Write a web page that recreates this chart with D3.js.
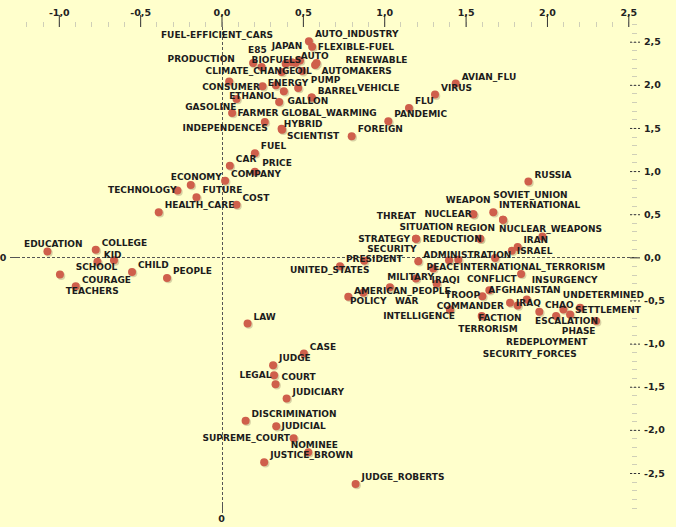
<!DOCTYPE html>
<html><head><meta charset="utf-8">
<script src="https://cdn.jsdelivr.net/npm/d3@7"></script>
<style>html,body{margin:0;padding:0;background:#ffffcc;}svg{display:block}</style>
</head><body>
<svg id="chart" width="676" height="527"></svg>
<script>
// ---- data (dimension 1, dimension 2) ----
const words = ["AUTO_INDUSTRY","FLEXIBLE-FUEL","FUEL-EFFICIENT_CARS","JAPAN","E85","PRODUCTION","BIOFUELS","AUTO","RENEWABLE","CLIMATE_CHANGE","OIL","AUTOMAKERS","CONSUMER","ENERGY","PUMP","VEHICLE","BARREL","ETHANOL","GALLON","GASOLINE","FARMER","GLOBAL_WARMING","HYBRID","INDEPENDENCES","SCIENTIST","FOREIGN","PANDEMIC","FLU","VIRUS","AVIAN_FLU",
"FUEL","CAR","PRICE","COMPANY","ECONOMY","TECHNOLOGY","FUTURE","COST","HEALTH_CARE","EDUCATION","COLLEGE","KID","SCHOOL","COURAGE","TEACHERS","CHILD","PEOPLE",
"RUSSIA","WEAPON","SOVIET_UNION","INTERNATIONAL","NUCLEAR","THREAT","SITUATION","REGION","STRATEGY","REDUCTION","NUCLEAR_WEAPONS","IRAN","ISRAEL","SECURITY","PRESIDENT","ADMINISTRATION","UNITED_STATES","PEACE","INTERNATIONAL_TERRORISM","INSURGENCY","CONFLICT","MILITARY","IRAQI","AMERICAN_PEOPLE","POLICY","WAR","TROOP","AFGHANISTAN","UNDETERMINED","IRAQ","CHAO","SETTLEMENT","COMMANDER","INTELLIGENCE","FACTION","ESCALATION","TERRORISM","PHASE","REDEPLOYMENT","SECURITY_FORCES",
"LAW","CASE","JUDGE","LEGAL","COURT","JUDICIARY","DISCRIMINATION","JUDICIAL","SUPREME_COURT","NOMINEE","JUSTICE_BROWN","JUDGE_ROBERTS"];

const dim1 = [0.537,0.557,0.482,0.431,0.194,0.246,0.394,0.455,0.584,0.369,0.496,0.575,0.047,0.252,0.471,0.554,0.554,0.383,0.354,0.092,0.065,0.334,0.369,0.266,0.372,0.800,1.025,1.152,1.312,1.439,
0.205,0.051,0.205,0.022,-0.189,-0.271,-0.154,0.092,-0.386,-1.070,-0.773,-0.661,-0.763,-0.993,-0.896,-0.550,-0.335,
1.886,1.547,1.670,1.730,1.547,1.195,1.589,1.730,1.195,1.589,1.820,1.972,1.784,1.209,0.877,1.398,0.728,1.301,1.455,1.841,1.681,1.195,1.322,1.035,0.779,0.871,1.603,1.646,2.204,1.773,1.953,2.142,1.404,1.404,1.599,2.056,1.820,2.302,2.101,1.876,
0.160,0.506,0.317,0.323,0.332,0.400,0.148,0.336,0.443,0.533,0.262,0.824];

const dim2 = [2.506,2.441,2.283,2.263,2.252,2.206,2.245,2.252,2.252,2.148,2.159,2.230,2.040,1.983,1.963,1.852,1.852,1.925,1.801,1.836,1.674,1.994,1.490,1.570,1.480,1.405,1.578,1.732,1.887,2.014,
1.206,1.062,0.993,0.889,0.839,0.774,0.697,0.609,0.524,0.069,0.089,-0.035,-0.050,-0.200,-0.335,-0.169,-0.238,
0.878,0.501,0.524,0.435,0.501,0.216,0.216,0.435,0.216,0.216,0.120,0.242,0.077,-0.046,-0.038,-0.035,-0.104,-0.130,-0.027,-0.192,-0.007,-0.246,-0.307,-0.346,-0.457,-0.411,-0.450,-0.381,-0.584,-0.527,-0.630,-0.662,-0.604,-0.604,-0.681,-0.681,-0.558,-0.739,-0.604,-0.488,
-0.766,-1.115,-1.251,-1.366,-1.470,-1.635,-1.894,-1.958,-2.097,-2.259,-2.374,-2.628];

const xTickValues = [-1.0,-0.5,0.0,0.5,1.0,1.5,2.0,2.5];
const yTickValues = [2.5,2.0,1.5,1.0,0.5,0.0,-0.5,-1.0,-1.5,-2.0,-2.5];

// ---- label placement (pixel offsets from the point: dx, dy, anchor) ----
const labelPlacement = {
  "FLEXIBLE-FUEL":[5.7,0,"start"],"FUEL-EFFICIENT_CARS":[-139,-26,"start"],"JAPAN":[-20,-16,"start"],
  "E85":[-5,-13.4,"start"],"PRODUCTION":[-26.7,-8,"end"],"BIOFUELS":[-34,-4,"start"],"AUTO":[5.3,-7.7,"start"],
  "RENEWABLE":[29,-3.7,"start"],"CLIMATE_CHANGE":[-76,-1.7,"start"],"OIL":[-7.3,-0.7,"start"],"AUTOMAKERS":[6.5,5.4,"start"],
  "CONSUMER":[30.7,5,"end"],"ENERGY":[5.3,-3.3,"start"],"PUMP":[12.7,-7.7,"start"],"VEHICLE":[45.6,-10,"start"],
  "ETHANOL":[-7,4.3,"end"],"GALLON":[8.4,-1,"start"],"GASOLINE":[0,8,"end"],"FARMER":[5.4,-0.4,"start"],
  "GLOBAL_WARMING":[5.7,27.3,"start"],"HYBRID":[2.3,-5,"start"],"INDEPENDENCES":[3,6.3,"end"],"SCIENTIST":[5,6.3,"start"],
  "PRICE":[7.3,-8.4,"start"],"ECONOMY":[-20,-7.7,"start"],"TECHNOLOGY":[-1,-0.7,"end"],
  "EDUCATION":[-23.4,-8,"start"],"KID":[-10.3,-5.7,"start"],"SCHOOL":[-21.7,5,"start"],"COURAGE":[22,5,"start"],"TEACHERS":[-10,4.3,"start"],
  "WEAPON":[17.4,-14.3,"end"],"SOVIET_UNION":[0,-17.3,"start"],"INTERNATIONAL":[-4,-15,"start"],"NUCLEAR":[-1.6,0,"end"],
  "THREAT":[0,-23.3,"end"],"SITUATION":[-26.7,-12,"end"],"REGION":[-8,7.7,"end"],
  "STRATEGY":[-6,0.3,"end"],"REDUCTION":[1.7,0.3,"end"],"NUCLEAR_WEAPONS":[-18.7,-18,"start"],"IRAN":[-19,3.3,"start"],"ISRAEL":[5,0,"start"],
  "SECURITY":[-1.6,-12.4,"end"],"PRESIDENT":[-18.3,-1.7,"start"],"ADMINISTRATION":[-25.7,-5.4,"start"],"UNITED_STATES":[-50,3.3,"start"],
  "PEACE":[-6.6,-1.7,"start"],"INTERNATIONAL_TERRORISM":[1.7,7.3,"start"],"INSURGENCY":[10.7,5.7,"start"],"CONFLICT":[21.7,21,"end"],
  "MILITARY":[-28.7,-1.3,"start"],"IRAQI":[-5,-4.3,"start"],"AMERICAN_PEOPLE":[-36,3.3,"start"],"POLICY":[1.7,3.7,"start"],"WAR":[31.7,7.7,"start"],
  "TROOP":[-2.3,-1.7,"end"],"AFGHANISTAN":[-1,0,"start"],"UNDETERMINED":[-17.3,-13.3,"start"],"IRAQ":[6,0,"start"],"CHAO":[5.7,-7.3,"start"],
  "SETTLEMENT":[5,-4.3,"start"],"COMMANDER":[-13.3,-3.3,"start"],"INTELLIGENCE":[5,6.7,"end"],"FACTION":[-3.4,1.6,"start"],
  "ESCALATION":[-21,5,"start"],"TERRORISM":[-59.4,23,"start"],"PHASE":[-34.3,9.6,"start"],"REDEPLOYMENT":[-57.3,32.3,"start"],"SECURITY_FORCES":[-44,54,"start"],
  "LEGAL":[-2.6,0,"end"],"JUDICIAL":[5.4,0,"start"],"SUPREME_COURT":[-3.7,-0.3,"end"],"NOMINEE":[-17.6,-7.3,"start"]
};
const defaultPlacement = [6,-7,"start"];

// ---- drawing ----
const svg = d3.select("#chart");
const W = 676, H = 527;
svg.append("rect").attr("width",W).attr("height",H).attr("fill","#ffffcc");

const x = d3.scaleLinear().domain([-1,2.5]).range([58.8,628.3]);
const y = d3.scaleLinear().domain([-2.5,2.5]).range([473.0,41.7]);
const fmt = v => d3.format(".1f")(v).replace("\u2212","-").replace(".",",");
const FONT = "'DejaVu Sans', Verdana, sans-serif";
const yAxisX = 634, xAxisY = 27;

// minor ticks
const xMinor = d3.range(-12,26).map(i => i/10);
svg.append("g").selectAll("line").data(xMinor).join("line")
  .attr("x1",d=>Math.round(x(d))+0.5).attr("x2",d=>Math.round(x(d))+0.5)
  .attr("y1",xAxisY-5).attr("y2",xAxisY).attr("stroke","#cfcfb8").attr("stroke-width",1);
const yMinor = d3.range(-29,28).map(i => i/10);
svg.append("g").selectAll("line").data(yMinor).join("line")
  .attr("y1",d=>Math.round(y(d))+0.5).attr("y2",d=>Math.round(y(d))+0.5)
  .attr("x1",yAxisX-2).attr("x2",yAxisX+3).attr("stroke","#cfcfb8").attr("stroke-width",1);

// zero reference lines
svg.append("line").attr("x1",17).attr("x2",yAxisX).attr("y1",Math.round(y(0))+0.5).attr("y2",Math.round(y(0))+0.5)
  .attr("stroke","#555").attr("stroke-dasharray","3,2");
svg.append("line").attr("x1",10).attr("x2",17).attr("y1",Math.round(y(0))+0.5).attr("y2",Math.round(y(0))+0.5).attr("stroke","#555");
svg.append("text").attr("x",3).attr("y",y(0)).attr("dy","0.35em").attr("text-anchor","middle")
  .attr("font-family",FONT).attr("font-weight","bold").attr("font-size",9.5).attr("fill","#222").text("0");
svg.append("line").attr("y1",xAxisY).attr("y2",505).attr("x1",Math.round(x(0))+0.5).attr("x2",Math.round(x(0))+0.5)
  .attr("stroke","#555").attr("stroke-dasharray","3,2");
svg.append("line").attr("y1",505).attr("y2",513).attr("x1",Math.round(x(0))+0.5).attr("x2",Math.round(x(0))+0.5).attr("stroke","#555");
svg.append("text").attr("x",x(0)).attr("y",519).attr("dy","0.35em").attr("text-anchor","middle")
  .attr("font-family",FONT).attr("font-weight","bold").attr("font-size",9.5).attr("fill","#222").text("0");

// top x axis
const gx = svg.append("g").attr("transform",`translate(0,${xAxisY})`)
  .call(d3.axisTop(x).tickValues(xTickValues).tickFormat(fmt).tickSize(12).tickPadding(-1));
gx.select(".domain").remove();
gx.selectAll(".tick line").attr("stroke","#333");
gx.selectAll(".tick text").attr("font-family",FONT).attr("font-weight","bold").attr("font-size",9.5).attr("fill","#222");

// right y axis
const gy = svg.append("g").attr("transform",`translate(${yAxisX-4},0)`)
  .call(d3.axisRight(y).tickValues(yTickValues).tickFormat(fmt).tickSize(10).tickPadding(4));
gy.select(".domain").remove();
gy.selectAll(".tick line").attr("stroke","#333").attr("stroke-dasharray",d=>d===0?null:"2,2");
gy.selectAll(".tick text").attr("font-family",FONT).attr("font-weight","bold").attr("font-size",9.5).attr("fill","#222");

// points
const pts = words.map((w,i)=>({w, a:dim1[i], b:dim2[i]}));
const gp = svg.append("g");
gp.selectAll("circle.sh").data(pts).join("circle").attr("class","sh")
  .attr("cx",d=>x(d.a)+1.3).attr("cy",d=>y(d.b)+1.3).attr("r",4).attr("fill","#c8bf93").attr("opacity",0.7);
gp.selectAll("circle.pt").data(pts).join("circle").attr("class","pt")
  .attr("cx",d=>x(d.a)).attr("cy",d=>y(d.b)).attr("r",4).attr("fill","#cf5f4b");

// labels
svg.append("g").selectAll("text").data(pts).join("text")
  .attr("x",d=>x(d.a)+(labelPlacement[d.w]||defaultPlacement)[0])
  .attr("y",d=>y(d.b)+(labelPlacement[d.w]||defaultPlacement)[1])
  .attr("dy","0.35em")
  .attr("text-anchor",d=>(labelPlacement[d.w]||defaultPlacement)[2])
  .attr("font-family",FONT).attr("font-weight","bold").attr("font-size",9).attr("fill","#1c1c1c")
  .text(d=>d.w);
</script>
</body></html>
